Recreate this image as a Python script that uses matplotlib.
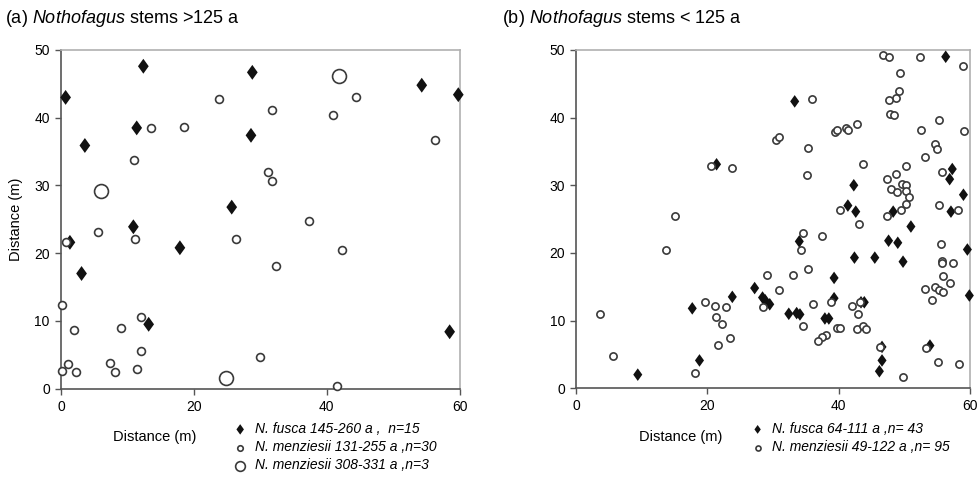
import numpy as np
import matplotlib
matplotlib.use('Agg')
import matplotlib.pyplot as plt
from matplotlib.path import Path

plt.rcParams['font.family'] = ['Liberation Sans', 'DejaVu Sans']
plt.rcParams['mathtext.fontset'] = 'custom'
plt.rcParams['mathtext.rm'] = 'Liberation Sans'
plt.rcParams['mathtext.it'] = 'Liberation Sans:italic'

# (a) stems > 125 a
a_fusca_x = [0.7, 12.4, 28.8, 3.6, 11.4, 28.6, 25.7, 54.3, 59.8, 10.9, 1.35, 17.9, 3.1, 13.2, 58.5]
a_fusca_y = [43.0, 47.6, 46.7, 35.9, 38.5, 37.4, 26.8, 44.8, 43.4, 23.9, 21.6, 20.8, 17.0, 9.5, 8.4]
a_menz_x = [13.5, 18.5, 23.8, 31.7, 11.0, 31.2, 31.7, 44.4, 40.9, 56.3, 37.3, 5.5, 11.2, 0.75, 26.4,
            32.3, 0.15, 12.0, 1.9, 9.1, 12.0, 1.1, 0.15, 2.3, 7.4, 8.2, 11.5, 30.0, 42.3, 41.5]
a_menz_y = [38.5, 38.7, 42.7, 41.1, 33.8, 32.0, 30.7, 43.1, 40.4, 36.7, 24.7, 23.2, 22.1, 21.7, 22.1,
            18.1, 12.4, 10.6, 8.7, 8.9, 5.5, 3.6, 2.6, 2.5, 3.8, 2.4, 2.9, 4.6, 20.4, 0.4]
a_old_x = [6.0, 41.9, 24.8]
a_old_y = [29.2, 46.2, 1.6]

# (b) stems < 125 a
b_fusca_x = [21.4, 9.4, 27.2, 23.8, 17.7, 18.8, 56.3, 33.3, 57.3, 56.9, 59.0, 42.3, 48.3, 41.4, 42.6,
             57.1, 51.0, 34.0, 47.6, 49.0, 59.6, 42.4, 45.5, 49.8, 39.3, 59.9, 28.4, 28.8, 29.5, 39.3,
             43.4, 43.9, 32.4, 33.6, 34.1, 37.9, 38.5, 46.6, 46.6, 46.2, 53.9]
b_fusca_y = [33.1, 2.0, 14.8, 13.5, 11.8, 4.1, 49.0, 42.4, 32.4, 30.9, 28.6, 30.0, 26.1, 27.0, 26.1,
             26.1, 23.9, 21.7, 21.8, 21.5, 20.5, 19.3, 19.3, 18.7, 16.3, 13.7, 13.4, 13.0, 12.4, 13.3,
             12.7, 12.7, 11.0, 11.1, 10.9, 10.3, 10.3, 6.1, 4.1, 2.5, 6.3]
b_menz_x = [20.5, 23.7, 15.0, 13.7, 3.6, 5.7, 29.1, 19.7, 21.2, 22.9, 21.3, 22.3, 21.6, 23.5, 18.1,
            28.4, 46.7, 47.7, 52.4, 59.0, 49.4, 49.2, 48.8, 47.6, 47.8, 48.4, 35.9, 55.3, 52.5, 59.1,
            39.4, 39.8, 41.1, 41.4, 42.8, 30.4, 30.9, 35.4, 54.7, 54.9, 53.1, 43.7, 50.2, 35.1, 55.7,
            47.4, 48.7, 49.6, 50.2, 47.9, 48.9, 50.3, 50.7, 50.2, 49.5, 47.4, 40.2, 55.3, 58.2, 43.1,
            34.6, 34.3, 37.5, 55.6, 55.8, 55.7, 57.4, 35.3, 33.0, 55.9, 56.9, 30.9, 53.1, 54.7, 55.3,
            55.9, 54.2, 36.1, 38.9, 42.0, 43.2, 42.9, 34.5, 39.7, 40.2, 42.8, 43.7, 44.1, 38.0, 37.4,
            36.9, 46.3, 53.3, 55.1, 58.4, 49.8]
b_menz_y = [32.8, 32.5, 25.5, 20.4, 11.0, 4.8, 16.7, 12.8, 12.1, 12.0, 10.5, 9.5, 6.4, 7.4, 2.3,
            12.0, 49.3, 49.0, 49.0, 47.7, 46.6, 43.9, 42.9, 42.6, 40.6, 40.4, 42.7, 39.7, 38.2, 38.0,
            37.9, 38.2, 38.5, 38.2, 39.1, 36.7, 37.2, 35.5, 36.1, 35.3, 34.2, 33.2, 32.9, 31.5, 31.9,
            30.9, 31.7, 30.2, 30.0, 29.4, 29.0, 29.2, 28.2, 27.2, 26.3, 25.5, 26.3, 27.1, 26.4, 24.2,
            22.9, 20.4, 22.5, 21.3, 18.8, 18.5, 18.5, 17.6, 16.8, 16.6, 15.6, 14.5, 14.7, 14.9, 14.5,
            14.2, 13.0, 12.4, 12.7, 12.2, 12.8, 11.0, 9.2, 8.9, 8.9, 8.7, 9.2, 8.8, 7.9, 7.6,
            7.0, 6.1, 6.0, 3.8, 3.5, 1.6]

labels_a = ['N. fusca 145-260 a ,  n=15',
            'N. menziesii 131-255 a ,n=30',
            'N. menziesii 308-331 a ,n=3']
labels_b = ['N. fusca 64-111 a ,n= 43',
            'N. menziesii 49-122 a ,n= 95']

# Tall diamond marker
diamond = Path([(0, 1), (0.72, 0), (0, -1), (-0.72, 0), (0, 1)],
               [Path.MOVETO, Path.LINETO, Path.LINETO, Path.LINETO, Path.CLOSEPOLY])
edge = '#3a3a3a'

fig = plt.figure(figsize=(9.8, 4.84), dpi=100)
ax1 = fig.add_axes([0.0622, 0.197, 0.4068, 0.6997])
ax2 = fig.add_axes([0.5878, 0.198, 0.402, 0.6987])

h1 = ax1.scatter(a_fusca_x, a_fusca_y, marker=diamond, s=115, c='#111111', edgecolors='none',
                 zorder=3, clip_on=False)
h2 = ax1.scatter(a_menz_x, a_menz_y, marker='o', s=32, facecolors='white', edgecolors=edge,
                 linewidths=1.2, zorder=3, clip_on=False)
h3 = ax1.scatter(a_old_x, a_old_y, marker='o', s=100, facecolors='white', edgecolors=edge,
                 linewidths=1.2, zorder=3, clip_on=False)

g1 = ax2.scatter(b_fusca_x, b_fusca_y, marker=diamond, s=82, c='#111111', edgecolors='none',
                 zorder=3, clip_on=False)
g2 = ax2.scatter(b_menz_x, b_menz_y, marker='o', s=27, facecolors='white', edgecolors=edge,
                 linewidths=1.2, zorder=3, clip_on=False)

for ax in (ax1, ax2):
    ax.set_xlim(0, 60)
    ax.set_ylim(0, 50)
    ax.set_xticks([0, 20, 40, 60])
    ax.set_yticks([0, 10, 20, 30, 40, 50])
    ax.spines['left'].set_color('#555555')
    ax.spines['bottom'].set_color('#555555')
    ax.spines['top'].set_color('#b0b0b0')
    ax.spines['right'].set_color('#b0b0b0')
    for s in ax.spines.values():
        s.set_linewidth(1.2)
    ax.tick_params(direction='out', length=4, width=1, color='#555555', labelsize=10, pad=4)

ax1.set_ylabel('Distance (m)', fontsize=10.5, labelpad=8)

fig.text(0.158, 0.097, 'Distance (m)', fontsize=10.5, ha='center', va='center')
fig.text(0.695, 0.097, 'Distance (m)', fontsize=10.5, ha='center', va='center')

fig.text(0.005, 0.962, r'(a) $\it{Nothofagus}$ stems >125 a', fontsize=13, va='center')
fig.text(0.512, 0.962, r'(b) $\it{Nothofagus}$ stems < 125 a', fontsize=13, va='center')

leg_font = {'style': 'italic', 'size': 10}
fig.legend([h1, h2, h3], labels_a, loc='upper left', bbox_to_anchor=(0.238, 0.128),
           frameon=False, prop=leg_font, handlelength=1.0, handletextpad=0.6,
           labelspacing=0.3, borderpad=0, borderaxespad=0, markerscale=0.7)
fig.legend([g1, g2], labels_b, loc='upper left', bbox_to_anchor=(0.766, 0.128),
           frameon=False, prop=leg_font, handlelength=1.0, handletextpad=0.5,
           labelspacing=0.3, borderpad=0, borderaxespad=0, markerscale=0.7)

fig.savefig('out.png', dpi=100)
